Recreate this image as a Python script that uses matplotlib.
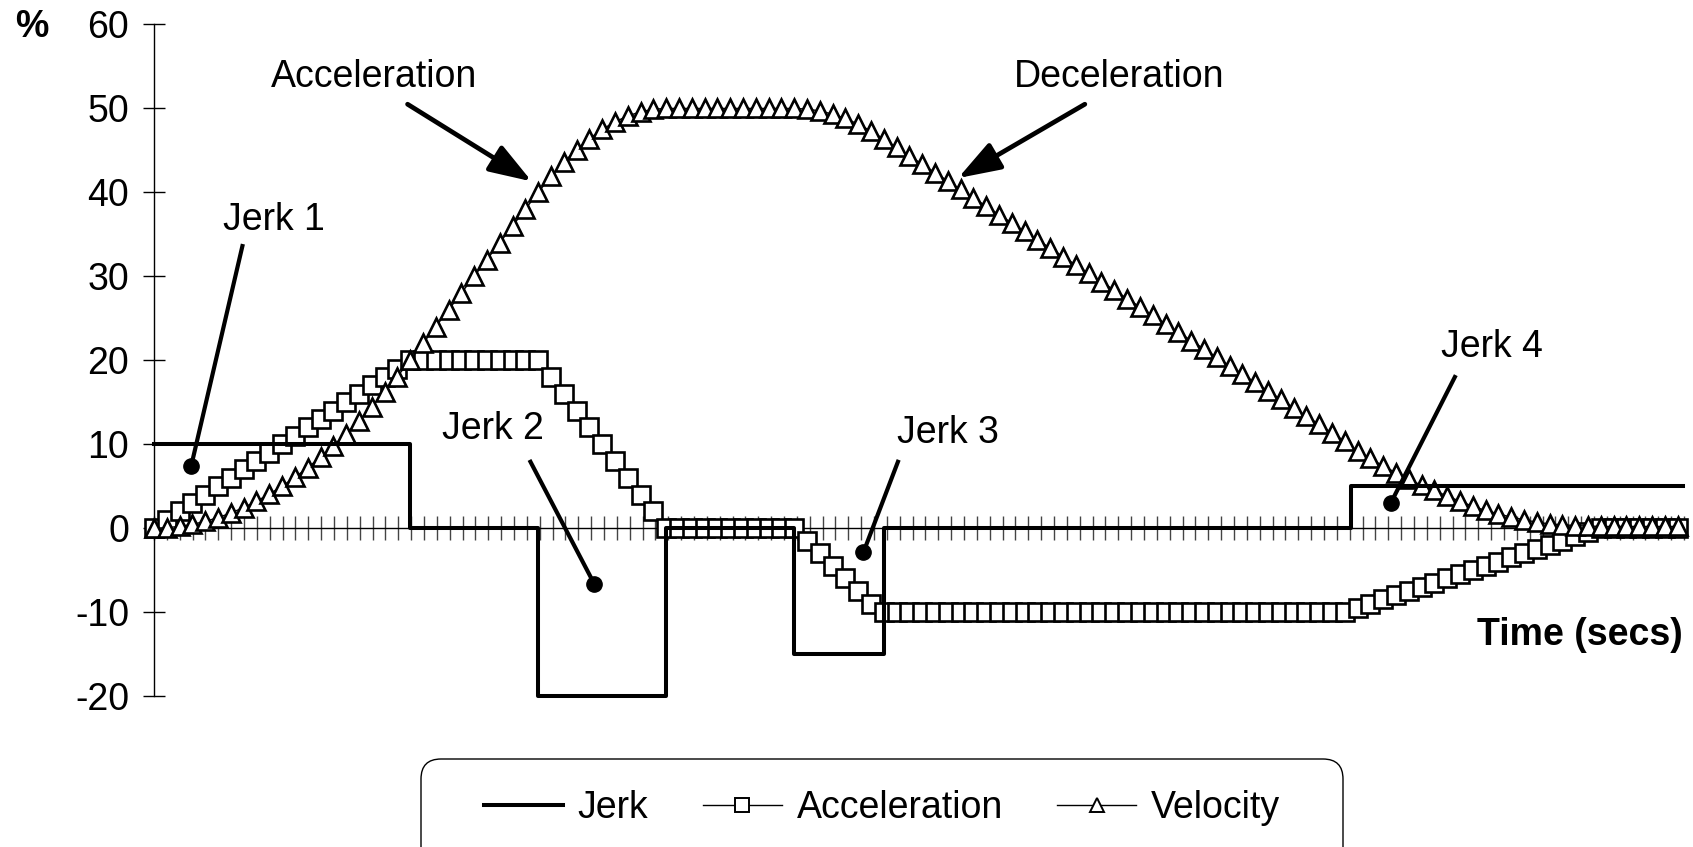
import matplotlib
matplotlib.use('Agg')
import matplotlib.pyplot as plt
import numpy as np
from matplotlib.lines import Line2D
from matplotlib.patches import FancyBboxPatch

plt.rcParams['font.family'] = ['Liberation Sans', 'DejaVu Sans']
plt.rcParams['axes.unicode_minus'] = False

# jerk profile: level held from each break time to the next
jerk_breaks = [0, 20, 30, 40, 50, 57, 93.5, 119.4]
jerk_levels = [10, 0, -20, 0, -15, 0, 5]

acceleration = [0, 1, 2, 3, 4, 5, 6, 7, 8, 9, 10, 11, 12, 13, 14, 15, 16, 17, 18, 19, 20,
                20, 20, 20, 20, 20, 20, 20, 20, 20, 20,
                18, 16, 14, 12, 10, 8, 6, 4, 2, 0,
                0, 0, 0, 0, 0, 0, 0, 0, 0, 0,
                -1.5, -3, -4.5, -6, -7.5, -9, -10,
                -10, -10, -10, -10, -10, -10, -10, -10, -10, -10, -10, -10,
                -10, -10, -10, -10, -10, -10, -10, -10, -10, -10, -10, -10,
                -10, -10, -10, -10, -10, -10, -10, -10, -10, -10, -10, -10,
                -9.5, -9, -8.5, -8, -7.5, -7, -6.5, -6, -5.5, -5,
                -4.5, -4, -3.5, -3, -2.5, -2, -1.5, -1, -0.5, 0,
                0, 0, 0, 0, 0, 0]

velocity = [0, 0.05, 0.2, 0.45, 0.8, 1.25, 1.8, 2.45, 3.2, 4.05, 5.0, 6.05, 7.2, 8.45, 9.8,
            11.25, 12.8, 14.45, 16.2, 18.05, 20.0,
            22, 24, 26, 28, 30, 32, 34, 36, 38, 40,
            41.9, 43.6, 45.1, 46.4, 47.5, 48.4, 49.1, 49.6, 49.9, 50,
            50, 50, 50, 50, 50, 50, 50, 50, 50, 50,
            49.92, 49.7, 49.32, 48.8, 48.12, 47.3, 46.35,
            45.35, 44.35, 43.35, 42.35, 41.35, 40.35, 39.35, 38.35, 37.35, 36.35, 35.35, 34.35,
            33.35, 32.35, 31.35, 30.35, 29.35, 28.35, 27.35, 26.35, 25.35, 24.35, 23.35, 22.35,
            21.35, 20.35, 19.35, 18.35, 17.35, 16.35, 15.35, 14.35, 13.35, 12.35, 11.35, 10.35,
            9.2, 8.3, 7.4, 6.6, 5.8, 5.1, 4.5, 3.8, 3.2, 2.6,
            2.1, 1.7, 1.3, 1.0, 0.7, 0.5, 0.4, 0.3, 0.25, 0.2,
            0.2, 0.2, 0.2, 0.2, 0.2, 0.2]

series_names = ['Jerk', 'Acceleration', 'Velocity']
y_ticks = [-20, -10, 0, 10, 20, 30, 40, 50, 60]

fig = plt.figure(figsize=(16.93, 8.47), dpi=100)
ax = fig.add_axes([0.0910, 0.1783, 0.9037, 0.7928])

t = np.arange(len(acceleration))
ax.plot(t, acceleration, color='black', lw=1, marker='s', ms=12.5, mfc='white',
        mec='black', mew=1.9, zorder=3, clip_on=False)
ax.plot(t, velocity, color='black', lw=1, marker='^', ms=13.5, mfc='white',
        mec='black', mew=1.9, zorder=4, clip_on=False)
ax.step(jerk_breaks, jerk_levels + [jerk_levels[-1]], where='post',
        color='black', lw=2.9, zorder=5, clip_on=False)

ax.set_xlim(0, 119.5)
ax.set_ylim(-20, 60)
for s in ['top', 'right']:
    ax.spines[s].set_visible(False)
ax.spines['bottom'].set_position(('data', 0))
ax.spines['bottom'].set_linewidth(1)
ax.spines['left'].set_linewidth(1)

ax.set_yticks(y_ticks)
ax.tick_params(axis='y', direction='inout', length=16, width=1, labelsize=27, pad=10)
ax.set_xticks(np.linspace(0, 119.5, 120))
ax.set_xticklabels([])
ax.tick_params(axis='x', direction='inout', length=17, width=1, color='#444444')

# arrows
arrow = dict(arrowstyle='-|>,head_length=1.3,head_width=0.45', lw=3.4, color='black',
             shrinkA=0, shrinkB=0, mutation_scale=20)
ax.text(17.2, 53.8, 'Acceleration', fontsize=27, ha='center', va='center')
ax.annotate('', xy=(29.5, 41.3), xytext=(19.8, 50.5), arrowprops=arrow, zorder=6)
ax.text(75.4, 53.8, 'Deceleration', fontsize=27, ha='center', va='center')
ax.annotate('', xy=(62.8, 41.7), xytext=(72.7, 50.5), arrowprops=arrow, zorder=6)

# jerk pointers
pointers = [('Jerk 1', (9.4, 36.7), (6.9, 33.6), (2.9, 7.4)),
            ('Jerk 2', (26.5, 11.8), (29.4, 7.9), (34.4, -6.7)),
            ('Jerk 3', (62.0, 11.3), (58.1, 7.9), (55.4, -2.9)),
            ('Jerk 4', (104.5, 21.6), (101.6, 18.0), (96.6, 3.0))]
for label, txt, p0, p1 in pointers:
    ax.text(txt[0], txt[1], label, fontsize=27, ha='center', va='center')
    ax.plot([p0[0], p1[0]], [p0[1], p1[1]], color='black', lw=3, zorder=6)
    ax.plot(p1[0], p1[1], 'o', color='black', ms=11, zorder=6)

fig.text(32 / 1693, 1 - 27 / 847, '%', fontsize=27, fontweight='bold', ha='center', va='center')
fig.text(1683 / 1693, 1 - 635 / 847, 'Time (secs)', fontsize=27, fontweight='bold',
         ha='right', va='center')

# legend with rounded frame cut by the figure edge
box = FancyBboxPatch((4.21, -0.5), 9.22, 1.38, boxstyle='round,pad=0,rounding_size=0.2',
                     transform=fig.dpi_scale_trans, fc='white', ec='black', lw=1)
fig.add_artist(box)
handles = [Line2D([], [], color='black', lw=2.9),
           Line2D([], [], color='black', lw=1, marker='s', ms=10, mfc='white', mew=1.4),
           Line2D([], [], color='black', lw=1, marker='^', ms=10, mfc='white', mew=1.4)]
fig.legend(handles, series_names, loc='center', bbox_to_anchor=(0.521, 0.046), ncol=3,
           frameon=False, fontsize=27, handlelength=2.1, handletextpad=0.4,
           columnspacing=1.45)

fig.savefig('out.png', dpi=100)
